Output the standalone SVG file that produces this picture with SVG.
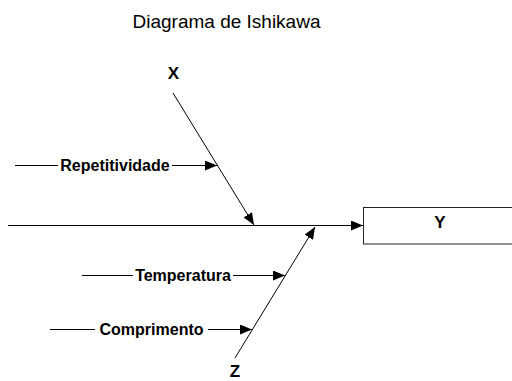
<svg xmlns="http://www.w3.org/2000/svg" width="512" height="381" viewBox="0 0 512 381">
<defs>
<marker id="ah" viewBox="0 0 12 10" refX="12" refY="5" markerWidth="12" markerHeight="10" markerUnits="userSpaceOnUse" orient="auto">
<path d="M0,0 L12,5 L0,10 Z" fill="#000"/>
</marker>
<style>
.ln{stroke:#000;stroke-width:1;fill:none}
.lb{font-family:"Liberation Sans",Arial,sans-serif;font-weight:bold;font-size:16px;fill:#000}
.big{font-family:"Liberation Sans",Arial,sans-serif;font-weight:bold;font-size:17px;fill:#000}
.title{font-family:"Liberation Sans",Arial,sans-serif;font-size:19px;fill:#000}
</style>
</defs>
<rect width="512" height="381" fill="#fff"/>
<text class="title" x="226.5" y="28" text-anchor="middle">Diagrama de Ishikawa</text>
<g id="connectors">
<line class="ln" x1="8" y1="225.5" x2="363" y2="225.5" marker-end="url(#ah)"/>
<line class="ln" x1="173" y1="93" x2="254" y2="225" marker-end="url(#ah)"/>
<line class="ln" x1="235" y1="358" x2="315" y2="227" marker-end="url(#ah)"/>
<line class="ln" x1="15" y1="165.5" x2="58" y2="165.5"/>
<line class="ln" x1="172" y1="165.5" x2="217" y2="165.5" marker-end="url(#ah)"/>
<line class="ln" x1="82" y1="275.5" x2="133" y2="275.5"/>
<line class="ln" x1="233" y1="275.5" x2="285" y2="275.5" marker-end="url(#ah)"/>
<line class="ln" x1="50" y1="329.5" x2="95" y2="329.5"/>
<line class="ln" x1="208" y1="329.5" x2="252" y2="329.5" marker-end="url(#ah)"/>
</g>
<g id="node-x"><text class="big" x="173.5" y="79" text-anchor="middle">X</text></g>
<g id="node-z"><text class="big" x="235" y="377" text-anchor="middle">Z</text></g>
<g id="node-y">
<rect x="363.5" y="207.5" width="160" height="36.5" fill="#fff" stroke="#222" stroke-width="1"/>
<text class="big" x="440" y="227.5" text-anchor="middle">Y</text>
</g>
<g id="node-repetitividade"><text class="lb" x="115" y="171" text-anchor="middle">Repetitividade</text></g>
<g id="node-temperatura"><text class="lb" x="183" y="281" text-anchor="middle">Temperatura</text></g>
<g id="node-comprimento"><text class="lb" x="151.5" y="335" text-anchor="middle">Comprimento</text></g>
</svg>
